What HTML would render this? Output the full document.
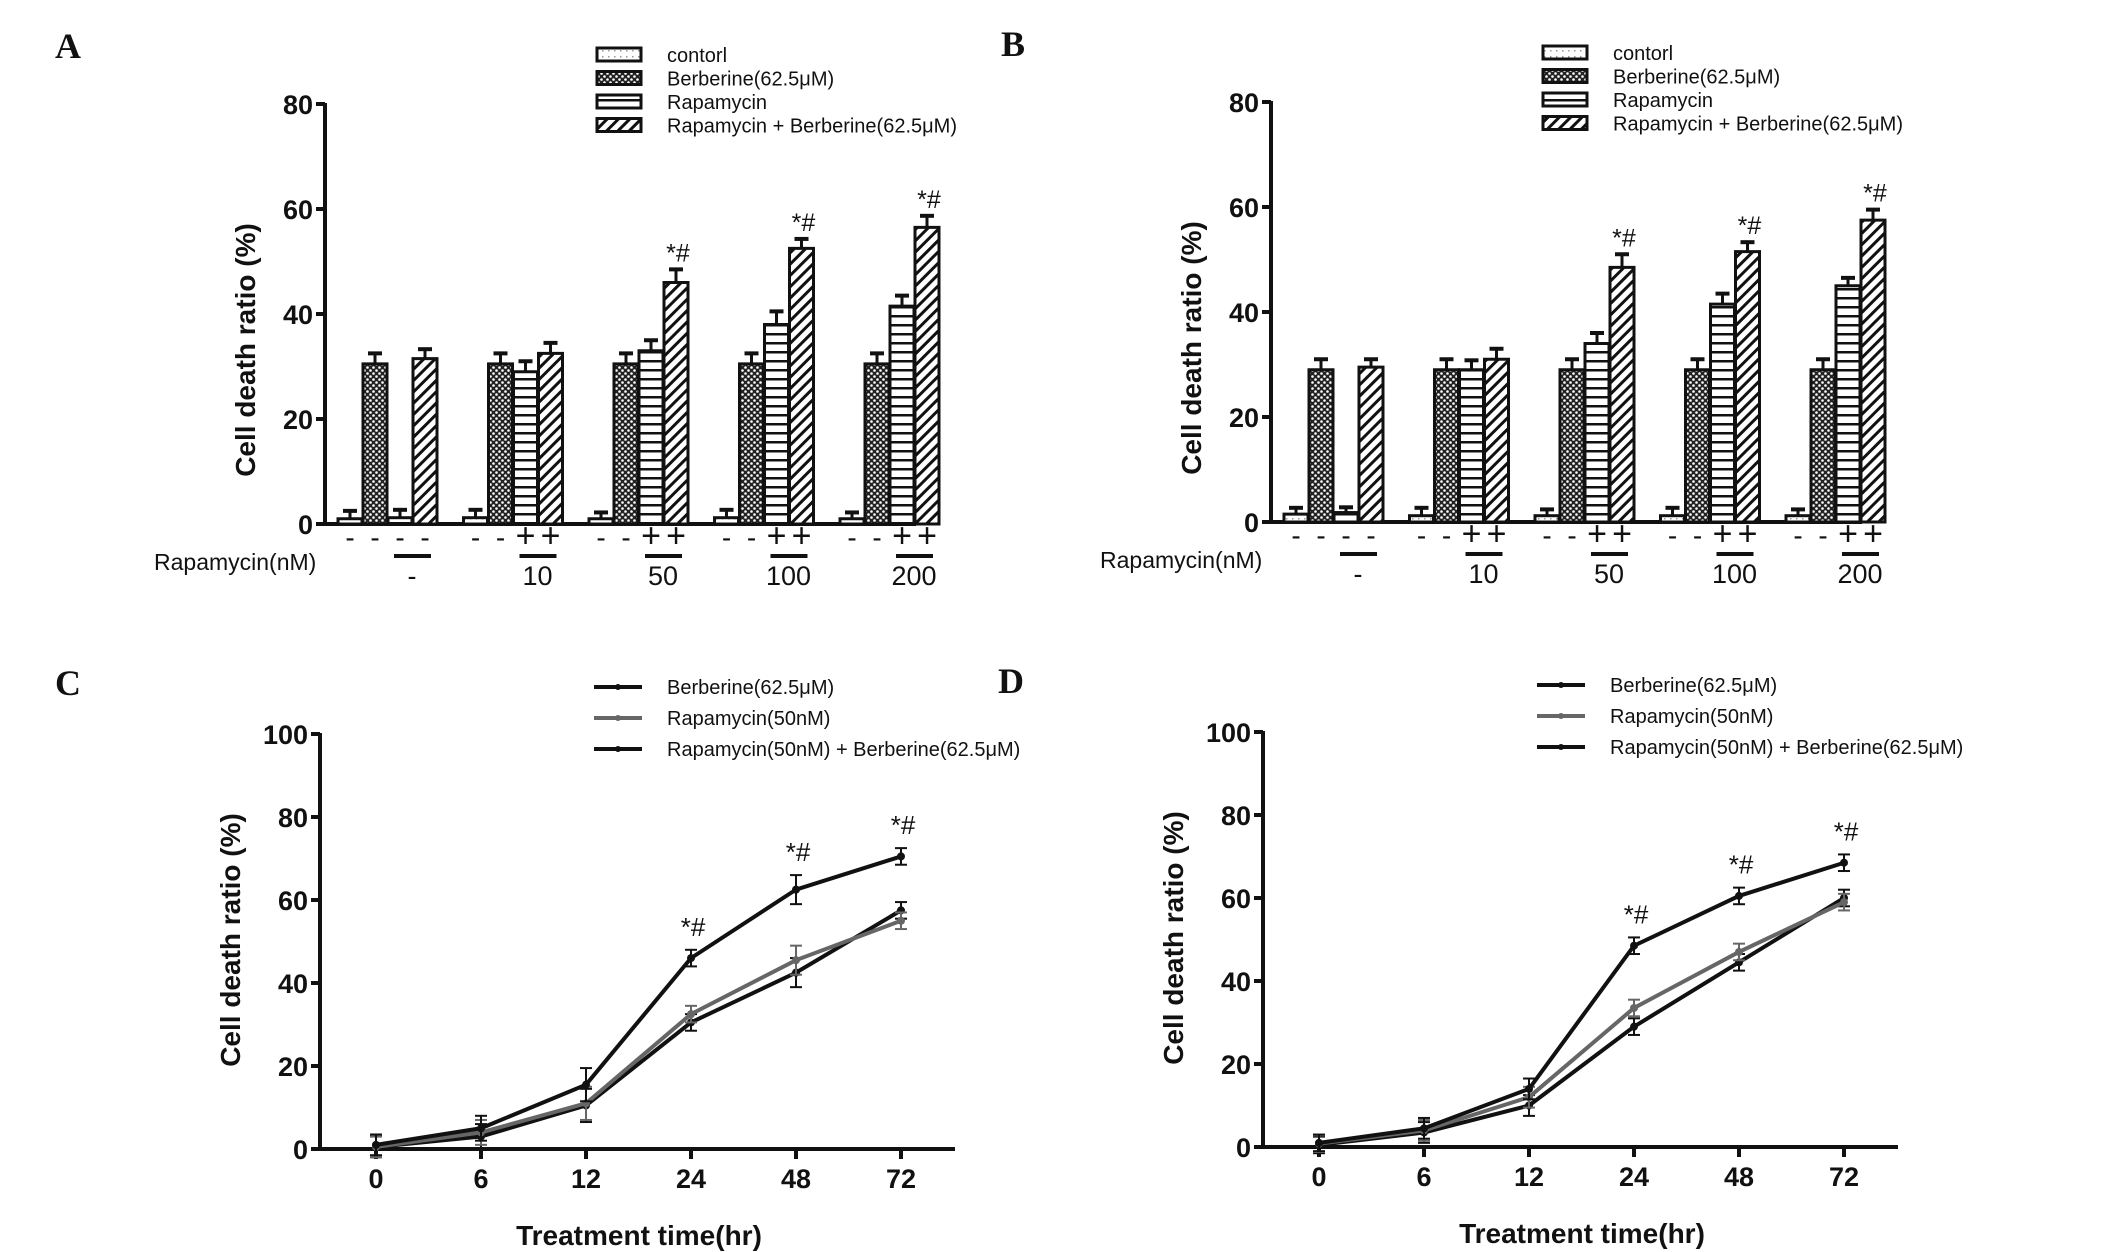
<!DOCTYPE html>
<html><head><meta charset="utf-8"><style>
html,body{margin:0;padding:0;background:#fff;}
svg{display:block;}
text{font-family:"Liberation Sans",sans-serif;fill:#111;}
text.serif{font-family:"Liberation Serif",serif;}
</style></head><body>
<svg id="fig" width="2126" height="1252" viewBox="0 0 2126 1252" xmlns="http://www.w3.org/2000/svg">
<defs>
<pattern id="pCtrl" width="6" height="6" patternUnits="userSpaceOnUse"><rect width="6" height="6" fill="#fff"/><rect x="2" y="2" width="1.5" height="1.5" fill="#999"/></pattern>
<pattern id="pBer" width="6" height="6" patternUnits="userSpaceOnUse"><rect width="6" height="6" fill="#222"/><circle cx="1.5" cy="1.5" r="1.3" fill="#fff"/><circle cx="4.5" cy="4.5" r="1.3" fill="#fff"/></pattern>
<pattern id="pRap" width="8" height="9" patternUnits="userSpaceOnUse"><rect width="8" height="9" fill="#fff"/><rect y="0" width="8" height="2.5" fill="#111"/></pattern>
<pattern id="pCombo" width="8" height="8" patternUnits="userSpaceOnUse" patternTransform="rotate(45)"><rect width="8" height="8" fill="#fff"/><rect width="3" height="8" fill="#111"/></pattern>
</defs>
</svg>
<script>
// Panel A/B bar data (groups: none,10,50,100,200 nM; bars: control, berberine, rapamycin, combo)
const barGroupLabels = ["-", "10", "50", "100", "200"];
const signRows = [["-","-","-","-"],["-","-","+","+"],["-","-","+","+"],["-","-","+","+"],["-","-","+","+"]];
const barSeriesNames = ["contorl","Berberine(62.5\u03bcM)","Rapamycin","Rapamycin + Berberine(62.5\u03bcM)"];
const barValuesA = [[1,30.5,1.2,31.5],[1.2,30.5,29,32.5],[1,30.5,33,46],[1.2,30.5,38,52.5],[1,30.5,41.5,56.5]];
const barErrA = [[1.5,2,1.5,1.8],[1.5,2,2,2],[1.2,2,2,2.5],[1.5,2,2.5,1.8],[1.2,2,2,2.2]];
const barStarA = [false,false,true,true,true];
const barValuesB = [[1.5,29,1.8,29.5],[1.2,29,29,31],[1.2,29,34,48.5],[1.2,29,41.5,51.5],[1.2,29,45,57.5]];
const barErrB = [[1.2,2,1,1.5],[1.5,2,1.8,2],[1.2,2,2,2.5],[1.5,2,2,1.8],[1.2,2,1.5,2]];
const barStarB = [false,false,true,true,true];
const barYTicks = [0,20,40,60,80];
// Panel C/D line data
const timeLabels = ["0","6","12","24","48","72"];
const lineNames = ["Berberine(62.5\u03bcM)","Rapamycin(50nM)","Rapamycin(50nM) + Berberine(62.5\u03bcM)"];
const berC = [0.5,3,10.5,30.5,42.5,57.5];
const rapC = [0.5,4,11,32.5,45.5,55];
const comboC = [1,5,15.5,46,62.5,70.5];
const errC = [2.5,3,4,2,3.5,2];
const berD = [0.5,3.5,10,29,44.5,60];
const rapD = [0.8,4,12,33.5,47,59];
const comboD = [1,4.5,14,48.5,60.5,68.5];
const errD = [2,2.5,2.5,2,2,2];
const lineStars = [false,false,false,true,true,true];
const lineYTicks = [0,20,40,60,80,100];

const NS="http://www.w3.org/2000/svg";
const svg=document.getElementById('fig');
function mk(tag,attrs,parent){const e=document.createElementNS(NS,tag);for(const k in attrs)e.setAttribute(k,attrs[k]);(parent||svg).appendChild(e);return e;}
function txt(s,x,y,size,weight,anchor,parent){const t=mk('text',{x:x,y:y,'font-size':size,'font-weight':weight||'normal','text-anchor':anchor||'start'},parent);t.textContent=s;return t;}
const fills=["url(#pCtrl)","url(#pBer)","url(#pRap)","url(#pCombo)"];

function barPanel(letter,ox,oy,vals,errs,stars){
  const g=mk('g',{});
  
  
  const axX=325+ox, y0=524+oy, yTop=104+oy, pu=(y0-yTop)/80;
  const yS=v=>y0-v*pu;
  const L=txt(letter,55+ox,58+oy,36,'bold','start',g); L.setAttribute('class','serif');
  
  barSeriesNames.forEach((n,i)=>{
    const ly=55+oy+i*23.5;
    const r=mk('rect',{x:597+ox,y:ly-7,width:44,height:13,fill:fills[i],stroke:'#111','stroke-width':3},g);
    
    const t=txt(n,667+ox,ly+7,20,'normal','start',g);
    
  });
  mk('line',{x1:axX,y1:yTop-1,x2:axX,y2:y0+2,stroke:'#111','stroke-width':4},g);
  mk('line',{x1:axX-2,y1:y0,x2:916+ox,y2:y0,stroke:'#111','stroke-width':4},g);
  barYTicks.forEach(v=>{
    mk('line',{x1:axX-9,y1:yS(v),x2:axX,y2:yS(v),stroke:'#111','stroke-width':4},g);
    const t=txt(String(v),axX-12,yS(v)+10,27,'bold','end',g);
    
  });
  const yt=txt('Cell death ratio (%)',0,0,28,'bold','middle',g);
  yt.setAttribute('transform',`translate(${255+ox},${350+oy}) rotate(-90)`);
  
  const bw=24, gStep=125.5, x0=350+ox;
  vals.forEach((grp,gi)=>{
    grp.forEach((v,bi)=>{
      const cx=x0+gi*gStep+bi*25;
      const e=errs[gi][bi];
      mk('line',{x1:cx,y1:yS(v),x2:cx,y2:yS(v+e),stroke:'#111','stroke-width':3},g);
      mk('line',{x1:cx-7,y1:yS(v+e),x2:cx+7,y2:yS(v+e),stroke:'#111','stroke-width':4},g);
      const r=mk('rect',{x:cx-bw/2,y:yS(v),width:bw,height:y0-yS(v),fill:fills[bi],stroke:'#111','stroke-width':3},g);
      
      const s=txt(signRows[gi][bi],cx,547+oy,signRows[gi][bi]==='+'?34:28,'normal','middle',g);
      
      if(bi===3&&stars[gi]){const st=txt('*#',cx+2,yS(v+e)-8,25,'normal','middle',g);}
    });
    const lx=x0+gi*gStep+50;
    mk('line',{x1:lx-6,y1:556+oy,x2:lx+31,y2:556+oy,stroke:'#111','stroke-width':4},g);
    const t=txt(barGroupLabels[gi],lx+12,585+oy,27,'normal','middle',g);
    
  });
  const rl=txt('Rapamycin(nM)',154+ox,570+oy,23,'normal','start',g);
  
}

function linePanel(letter,ox,oy,series,err){
  const g=mk('g',{});
  
  
  const axX=320+ox, y0=1149+oy, yTop=734+oy, pu=(y0-yTop)/100;
  const yS=v=>y0-v*pu, xS=i=>376+ox+i*105;
  const L=txt(letter,55+ox,695+oy,36,'bold','start',g); L.setAttribute('class','serif');
  
  const cols=['#111','#666','#111'];
  lineNames.forEach((n,i)=>{
    const ly=687+oy+i*31;
    mk('line',{x1:594+ox,y1:ly,x2:642+ox,y2:ly,stroke:cols[i],'stroke-width':4},g);
    mk('circle',{cx:618+ox,cy:ly,r:3,fill:cols[i]},g);
    const t=txt(n,667+ox,ly+7,20,'normal','start',g);
    
  });
  mk('line',{x1:axX,y1:yTop-1,x2:axX,y2:y0+2,stroke:'#111','stroke-width':4},g);
  mk('line',{x1:axX-2,y1:y0,x2:955+ox,y2:y0,stroke:'#111','stroke-width':4},g);
  lineYTicks.forEach(v=>{
    mk('line',{x1:axX-9,y1:yS(v),x2:axX,y2:yS(v),stroke:'#111','stroke-width':4},g);
    const t=txt(String(v),axX-12,yS(v)+10,27,'bold','end',g);
    
  });
  timeLabels.forEach((s,i)=>{
    mk('line',{x1:xS(i),y1:y0,x2:xS(i),y2:y0+10,stroke:'#111','stroke-width':4},g);
    const t=txt(s,xS(i),1188+oy,27,'bold','middle',g);
    
  });
  const yt=txt('Cell death ratio (%)',0,0,28,'bold','middle',g);
  yt.setAttribute('transform',`translate(${240+ox},${940+oy}) rotate(-90)`);
  
  const xt=txt('Treatment time(hr)',639+ox,1253+oy-8,28,'bold','middle',g);
  
  series.forEach((arr,si)=>{
    const p=mk('polyline',{points:arr.map((v,i)=>xS(i)+','+yS(v)).join(' '),fill:'none',stroke:cols[si],'stroke-width':4},g);
    
    arr.forEach((v,i)=>{
      const e=err[i];
      mk('line',{x1:xS(i),y1:yS(v-e),x2:xS(i),y2:yS(v+e),stroke:cols[si],'stroke-width':2},g);
      mk('line',{x1:xS(i)-6,y1:yS(v+e),x2:xS(i)+6,y2:yS(v+e),stroke:cols[si],'stroke-width':2},g);
      mk('line',{x1:xS(i)-6,y1:yS(v-e),x2:xS(i)+6,y2:yS(v-e),stroke:cols[si],'stroke-width':2},g);
      const c=mk('circle',{cx:xS(i),cy:yS(v),r:4,fill:cols[si]},g);
      
      if(si===2&&lineStars[i]){const st=txt('*#',xS(i)+2,yS(v+e)-14,26,'normal','middle',g);}
    });
  });
}
barPanel('A',0,0,barValuesA,barErrA,barStarA);
barPanel('B',946,-2,barValuesB,barErrB,barStarB);
linePanel('C',0,0,[berC,rapC,comboC],errC);
linePanel('D',943,-2,[berD,rapD,comboD],errD);
</script>
</body></html>
